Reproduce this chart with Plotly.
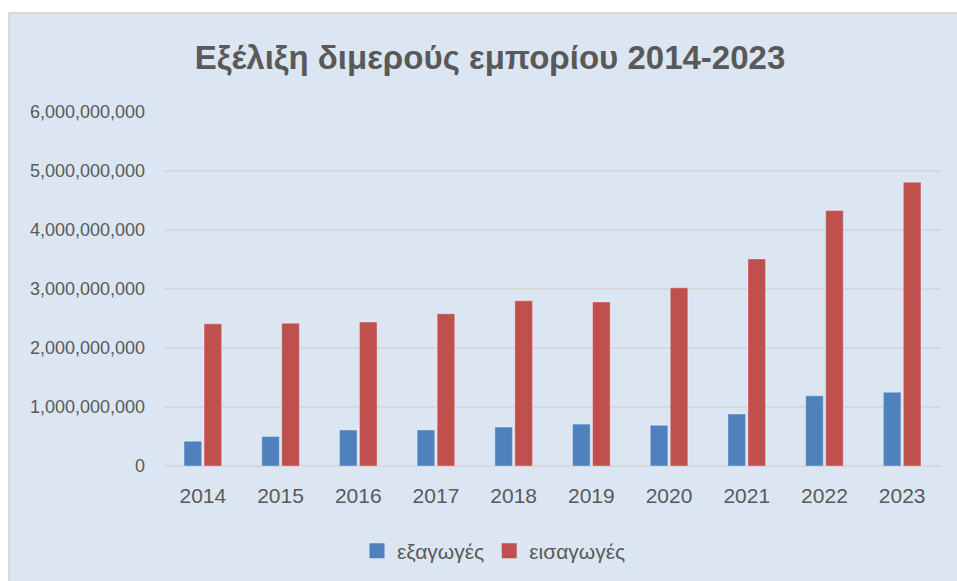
import plotly.graph_objects as go

years = ["2014", "2015", "2016", "2017", "2018", "2019", "2020", "2021", "2022", "2023"]
exports = [420e6, 500e6, 610e6, 610e6, 660e6, 710e6, 690e6, 880e6, 1190e6, 1250e6]
imports = [2410e6, 2420e6, 2440e6, 2580e6, 2800e6, 2780e6, 3020e6, 3510e6, 4330e6, 4810e6]
y_ticks = [0, 1e9, 2e9, 3e9, 4e9, 5e9, 6e9]
series_names = ["εξαγωγές", "εισαγωγές"]
series_colors = ["#4f81bd", "#c0504d"]

W, H = 957, 581
L, R, T, B = 164, 16, 112, 115
pw, ph = W - L - R, H - T - B

def px_x(p):
    return (p - L) / pw

def px_y(p):
    return (H - B - p) / ph

fig = go.Figure()
for vals, name, col in zip([exports, imports], series_names, series_colors):
    fig.add_trace(go.Bar(x=years, y=vals, name=name, showlegend=False,
                         marker=dict(color=col, line=dict(color="rgba(255,255,255,0.35)", width=1))))
# legend entries with larger square swatches
for name, col in zip(series_names, series_colors):
    fig.add_trace(go.Scatter(x=[None], y=[None], mode="markers", name=name,
                             marker=dict(symbol="square", size=15, color=col)))

fig.add_shape(type="rect", xref="paper", yref="paper",
              x0=px_x(9), x1=px_x(W + 5), y0=px_y(H + 10), y1=px_y(13),
              fillcolor="#dce6f2", line=dict(color="#d0d0d0", width=1.5), layer="below")

font = "Liberation Sans, Arial, sans-serif"
fig.update_layout(
    width=W, height=H,
    margin=dict(l=L, r=R, t=T, b=B, autoexpand=False),
    paper_bgcolor="white", plot_bgcolor="rgba(0,0,0,0)",
    barmode="group", bargap=0.485, bargroupgap=0.12,
    title=dict(text="<b>Εξέλιξη διμερούς εμπορίου 2014-2023</b>",
               font=dict(family=font, size=33, color="#595959"),
               x=px_x(490), xref="paper", xanchor="center",
               y=1 - 57 / H, yref="container", yanchor="middle"),
    legend=dict(orientation="h", x=px_x(494), xanchor="center", y=px_y(551), yanchor="middle",
                font=dict(family=font, size=21, color="#595959"), bgcolor="rgba(0,0,0,0)",
                itemwidth=30, traceorder="normal"),
    xaxis=dict(showgrid=False, showline=False, ticks="outside", ticklen=11, tickcolor="rgba(0,0,0,0)",
               tickfont=dict(family=font, size=21, color="#595959")),
    yaxis=dict(range=[0, 6e9], tickvals=y_ticks, tickformat=",", showgrid=True,
               gridcolor="#d6d8dc", gridwidth=1.5, zeroline=True, zerolinecolor="#d6d8dc",
               zerolinewidth=1.5, showline=False, ticklabelstandoff=18,
               tickfont=dict(family=font, size=18, color="#595959")),
)

fig.write_html("out.html", config={"displayModeBar": False},
               post_script="document.body.style.margin='0';")
